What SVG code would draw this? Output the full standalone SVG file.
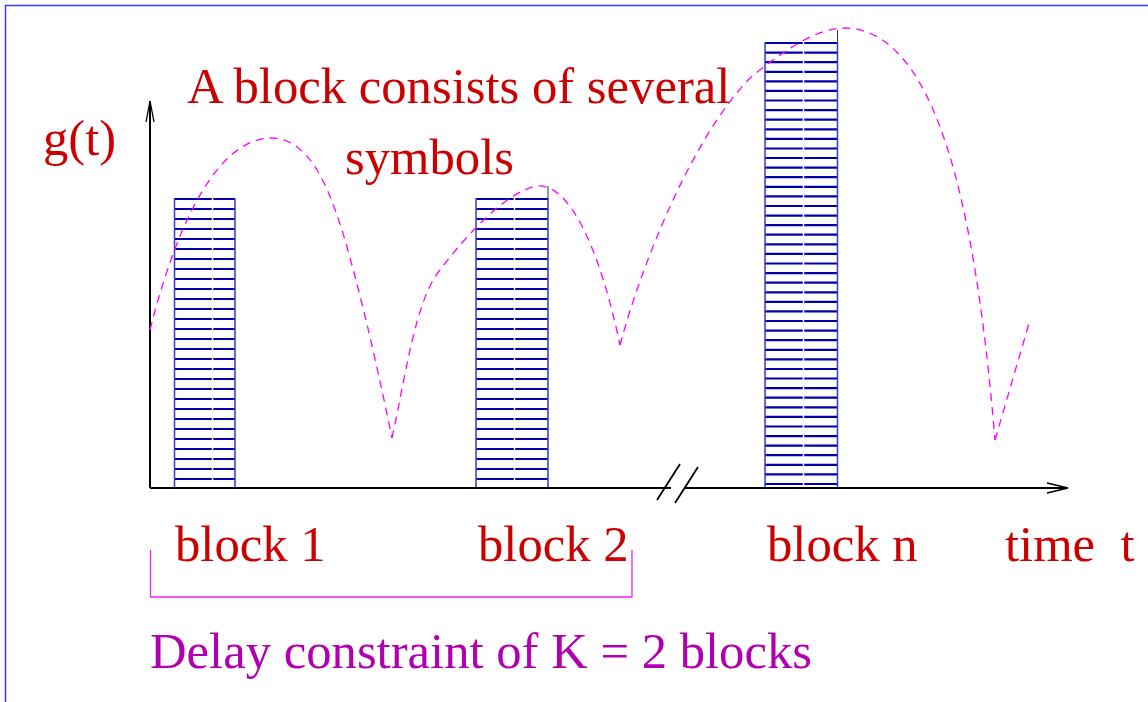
<svg xmlns="http://www.w3.org/2000/svg" width="1148" height="702" viewBox="0 0 1148 702">
<style>
.t{font-family:"Liberation Serif","Times New Roman",serif;font-size:50.7px;fill:#cc0000}
.d{font-family:"Liberation Serif","Times New Roman",serif;font-size:50.7px;fill:#b000b0}
.hatch{stroke:#0000a8;stroke-width:2.2;fill:none}
.edge{stroke:#3a3ac8;stroke-width:1.5;fill:none}
.gap{stroke:#ffffff;stroke-width:1.5}
.ax{stroke:#000;stroke-width:2;fill:none}
.curve{stroke:#ff00ff;stroke-width:1.3;fill:none;stroke-dasharray:8 6}
</style>
<rect x="0" y="0" width="1148" height="702" fill="#fff"/>
<path d="M5.5,702 V5.5 H1148" stroke="#3a3af0" stroke-width="1.5" fill="none"/>

<g id="block1">
<path class="hatch" d="M174,199H235M174,209H235M174,219H235M174,229H235M174,239H235M174,249H235M174,259H235M174,269H235M174,279H235M174,289H235M174,299H235M174,309H235M174,319H235M174,329H235M174,339H235M174,349H235M174,359H235M174,369H235M174,379H235M174,389H235M174,399H235M174,409H235M174,419H235M174,429H235M174,439H235M174,449H235M174,459H235M174,469H235M174,479H235"/>
<path class="edge" d="M174.5,198.5V488M235,198.5V488"/>
<line class="gap" x1="212.5" y1="198" x2="212.5" y2="487"/>
</g>

<g id="block2">
<path class="hatch" d="M476,199H548M476,209H548M476,219H548M476,229H548M476,239H548M476,249H548M476,259H548M476,269H548M476,279H548M476,289H548M476,299H548M476,309H548M476,319H548M476,329H548M476,339H548M476,349H548M476,359H548M476,369H548M476,379H548M476,389H548M476,399H548M476,409H548M476,419H548M476,429H548M476,439H548M476,449H548M476,459H548M476,469H548M476,479H548"/>
<path class="edge" d="M476,198.5V488M548,198.5V488"/>
<line class="gap" x1="514.5" y1="198" x2="514.5" y2="487"/>
<line x1="548" y1="186" x2="548" y2="199" stroke="#333" stroke-width="1"/>
</g>

<g id="blockn">
<path class="hatch" d="M765,43H837M765,52.6H837M765,62.2H837M765,71.8H837M765,81.4H837M765,90.9H837M765,100.5H837M765,110.1H837M765,119.7H837M765,129.3H837M765,138.9H837M765,148.5H837M765,158H837M765,167.6H837M765,177.2H837M765,186.8H837M765,196.4H837M765,206H837M765,215.6H837M765,225.2H837M765,234.7H837M765,244.3H837M765,253.9H837M765,263.5H837M765,273.1H837M765,282.7H837M765,292.3H837M765,301.9H837M765,311.4H837M765,321H837M765,330.6H837M765,340.2H837M765,349.8H837M765,359.4H837M765,369H837M765,378.5H837M765,388.1H837M765,397.7H837M765,407.3H837M765,416.9H837M765,426.5H837M765,436.1H837M765,445.7H837M765,455.2H837M765,464.8H837M765,474.4H837M765,484H837"/>
<path class="edge" d="M765,42.5V488M837.5,42.5V488"/>
<line class="gap" x1="803.5" y1="42" x2="803.5" y2="487"/>
<line x1="837.5" y1="30" x2="837.5" y2="43" stroke="#333" stroke-width="1"/>
</g>

<g id="connectors">
<path class="ax" d="M150,488V101"/>
<path d="M146,122L150,101L154,122" stroke="#000" stroke-width="1.3" fill="none"/>
<path class="ax" d="M150,488H671M685,488H1067"/>
<path d="M1047,483L1068,488L1047,493" stroke="#000" stroke-width="1.3" fill="none"/>
<path d="M680,464L657,500M698,467L675,503" stroke="#000" stroke-width="1.8" fill="none"/>
<path class="curve" d="M150,330 C175,230 215,140 270,138 C310,137 330,190 345,240 C365,310 380,380 392,438"/>
<path class="curve" d="M392,438 C405,380 415,300 440,270 C470,230 510,190 537,186 C570,183 600,250 620,345"/>
<path class="curve" d="M620,345 C640,270 690,140 750,78 C790,45 820,28 845,28 C935,30 975,200 995,440"/>
<path class="curve" d="M995,440 L1030,320"/>
<path d="M150.5,550V597H632V550" stroke="#ee22ee" stroke-width="1.3" fill="none"/>
</g>

<g id="labels">
<text class="t" x="187" y="103">A block consists of several</text>
<text class="t" x="345" y="174">symbols</text>
<text class="t" x="43" y="155">g(t)</text>
<text class="t" x="175" y="561">block 1</text>
<text class="t" x="478" y="561">block 2</text>
<text class="t" x="767" y="561">block n</text>
<text class="t" x="1005" y="561" xml:space="preserve">time  t</text>
<text class="d" x="150" y="668">Delay constraint of K = 2 blocks</text>
</g>
</svg>
